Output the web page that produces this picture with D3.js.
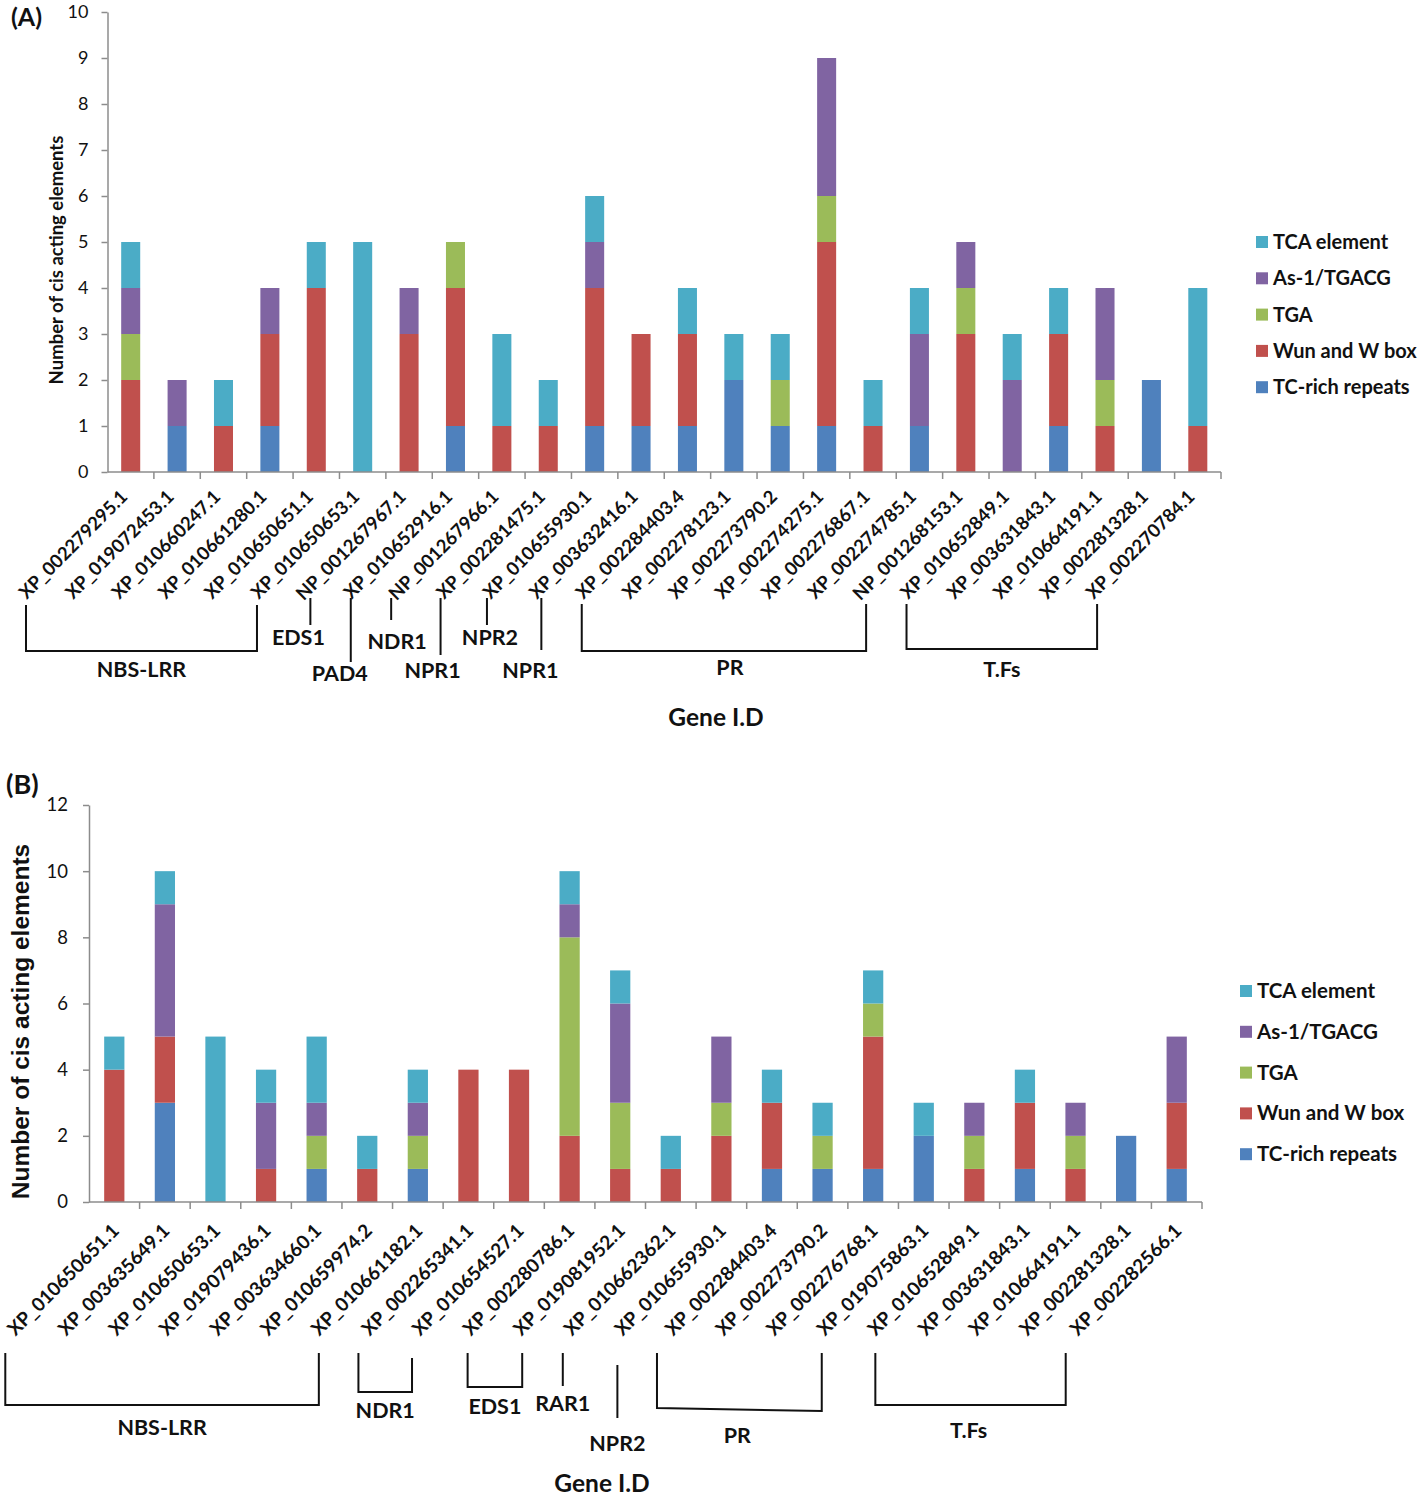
<!DOCTYPE html>
<html>
<head>
<meta charset="utf-8">
<script src="https://cdn.jsdelivr.net/npm/d3@7/dist/d3.min.js"></script>
<style>
body { margin: 0; background: #fff; }
text { font-family: Lato, "Open Sans", sans-serif; }
</style>
</head>
<body>
<div id="chart"></div>
<script>
// element types, bottom of stack first
var elements = ["TC-rich repeats", "Wun and W box", "TGA", "As-1/TGACG", "TCA element"];
var elementColors = ["#4F81BD", "#C0504D", "#9BBB59", "#8064A2", "#4BACC6"];

// ---- panel A ----
var genesA = ["XP_002279295.1", "XP_019072453.1", "XP_010660247.1", "XP_010661280.1", "XP_010650651.1",
  "XP_010650653.1", "NP_001267967.1", "XP_010652916.1", "NP_001267966.1", "XP_002281475.1",
  "XP_010655930.1", "XP_003632416.1", "XP_002284403.4", "XP_002278123.1", "XP_002273790.2",
  "XP_002274275.1", "XP_002276867.1", "XP_002274785.1", "NP_001268153.1", "XP_010652849.1",
  "XP_003631843.1", "XP_010664191.1", "XP_002281328.1", "XP_002270784.1"];
var tcRichA = [0, 1, 0, 1, 0, 0, 0, 1, 0, 0, 1, 1, 1, 2, 1, 1, 0, 1, 0, 0, 1, 0, 2, 0];
var wunA    = [2, 0, 1, 2, 4, 0, 3, 3, 1, 1, 3, 2, 2, 0, 0, 4, 1, 0, 3, 0, 2, 1, 0, 1];
var tgaA    = [1, 0, 0, 0, 0, 0, 0, 1, 0, 0, 0, 0, 0, 0, 1, 1, 0, 0, 1, 0, 0, 1, 0, 0];
var as1A    = [1, 1, 0, 1, 0, 0, 1, 0, 0, 0, 1, 0, 0, 0, 0, 3, 0, 2, 1, 2, 0, 2, 0, 0];
var tcaA    = [1, 0, 1, 0, 1, 5, 0, 0, 2, 1, 1, 0, 1, 1, 1, 0, 1, 1, 0, 1, 1, 0, 0, 3];
var ticksA = [0, 1, 2, 3, 4, 5, 6, 7, 8, 9, 10];
var groupsA = [
  {name: "NBS-LRR", from: 0, to: 5},
  {name: "EDS1", from: 6, to: 6},
  {name: "PAD4", from: 7, to: 7},
  {name: "NDR1", from: 8, to: 8},
  {name: "NPR1", from: 9, to: 9},
  {name: "NPR2", from: 10, to: 10},
  {name: "NPR1", from: 11, to: 11},
  {name: "PR", from: 12, to: 18},
  {name: "T.Fs", from: 19, to: 23}
];

// ---- panel B ----
var genesB = ["XP_010650651.1", "XP_003635649.1", "XP_010650653.1", "XP_019079436.1", "XP_003634660.1",
  "XP_010659974.2", "XP_010661182.1", "XP_002265341.1", "XP_010654527.1", "XP_002280786.1",
  "XP_019081952.1", "XP_010662362.1", "XP_010655930.1", "XP_002284403.4", "XP_002273790.2",
  "XP_002276768.1", "XP_019075863.1", "XP_010652849.1", "XP_003631843.1", "XP_010664191.1",
  "XP_002281328.1", "XP_002282566.1"];
var tcRichB = [0, 3, 0, 0, 1, 0, 1, 0, 0, 0, 0, 0, 0, 1, 1, 1, 2, 0, 1, 0, 2, 1];
var wunB    = [4, 2, 0, 1, 0, 1, 0, 4, 4, 2, 1, 1, 2, 2, 0, 4, 0, 1, 2, 1, 0, 2];
var tgaB    = [0, 0, 0, 0, 1, 0, 1, 0, 0, 6, 2, 0, 1, 0, 1, 1, 0, 1, 0, 1, 0, 0];
var as1B    = [0, 4, 0, 2, 1, 0, 1, 0, 0, 1, 3, 0, 2, 0, 0, 0, 0, 1, 0, 1, 0, 2];
var tcaB    = [1, 1, 5, 1, 2, 1, 1, 0, 0, 1, 1, 1, 0, 1, 1, 1, 1, 0, 1, 0, 0, 0];
var ticksB = [0, 2, 4, 6, 8, 10, 12];
var groupsB = [
  {name: "NBS-LRR", from: 0, to: 6},
  {name: "NDR1", from: 7, to: 8},
  {name: "EDS1", from: 9, to: 10},
  {name: "RAR1", from: 11, to: 11},
  {name: "NPR2", from: 12, to: 12},
  {name: "PR", from: 13, to: 16},
  {name: "T.Fs", from: 17, to: 21}
];

var svg = d3.select("#chart").append("svg")
  .attr("width", 1418)
  .attr("height", 1499);

// bracket / line layout for the group notes under the labels (top, bottom, label baseline, nudges)
var notesA = [
  {top: 605, bottom: 651, textY: 677, dl: 4, dr: 3},
  {top: 598, bottom: 625, textY: 645, dl: 10, tx: -12},
  {top: 598, bottom: 662, textY: 681, dl: 4, tx: -11},
  {top: 598, bottom: 620, textY: 649, dl: -2, tx: 6},
  {top: 598, bottom: 655, textY: 678, dl: 1, tx: -8},
  {top: 598, bottom: 625, textY: 645, dl: 1, tx: 3},
  {top: 598, bottom: 650, textY: 678, dl: 9, tx: -11},
  {top: 604, bottom: 651, textY: 675, dl: 3, dr: 9, tx: 6},
  {top: 604, bottom: 649, textY: 677, dl: 3, dr: 8}
];
var notesB = [
  {top: 1353, bottom: 1405, textY: 1435, dl: 2, dr: 12},
  {top: 1353, bottom: 1392, textY: 1418, dl: 1, dr: 4, topR: 1358},
  {top: 1353, bottom: 1387, textY: 1414, dl: 9, dr: 13},
  {top: 1353, bottom: 1386, textY: 1411, dl: 3},
  {top: 1365, bottom: 1418, textY: 1451, dl: 7},
  {top: 1353, bottom: 1408, textY: 1443, dl: -4, dr: 9, bottomR: 1411, tx: -2},
  {top: 1353, bottom: 1405, textY: 1438, dl: 12, dr: 0, tx: -2}
];

function drawPanel(p) {
  var g = svg.append("g");

  var table = p.genes.map(function(name, i) {
    var row = {gene: name};
    elements.forEach(function(k, j) { row[k] = p.series[j][i]; });
    return row;
  });
  var stacked = d3.stack().keys(elements)(table);

  var x = d3.scaleBand()
    .domain(p.genes)
    .range([p.left, p.right])
    .paddingInner(p.pad)
    .paddingOuter(p.pad / 2);
  var y = d3.scaleLinear()
    .domain([0, d3.max(p.ticks)])
    .range([p.bottom, p.top]);
  var bw = x.bandwidth(), step = x.step();

  // y axis
  var yAxis = g.append("g")
    .attr("transform", "translate(" + p.left + ",0)")
    .call(d3.axisLeft(y).tickValues(p.ticks).tickSize(6).tickSizeOuter(0).tickPadding(p.tickPad));
  yAxis.select(".domain").attr("stroke", "#8c8c8c").attr("stroke-width", 1.5);
  yAxis.selectAll(".tick line").attr("stroke", "#8c8c8c").attr("stroke-width", 1.5);
  yAxis.selectAll(".tick text")
    .attr("fill", "#111")
    .style("font-family", "Lato, sans-serif")
    .style("font-size", p.tickFont + "px");

  // bars
  g.selectAll(".layer")
    .data(stacked)
    .enter()
    .append("g")
    .attr("fill", function(d, i) { return elementColors[i]; })
    .selectAll("rect")
    .data(function(d) { return d.filter(function(v) { return v[1] > v[0]; }); })
    .enter()
    .append("rect")
    .attr("x", function(d) { return x(d.data.gene); })
    .attr("y", function(d) { return y(d[1]); })
    .attr("width", bw)
    .attr("height", function(d) { return y(d[0]) - y(d[1]); });

  // x axis line with ticks between categories
  g.append("line")
    .attr("x1", p.left).attr("x2", p.right)
    .attr("y1", y(0)).attr("y2", y(0))
    .attr("stroke", "#8c8c8c").attr("stroke-width", 1.5);
  g.selectAll(".xtick")
    .data(p.genes)
    .enter()
    .append("line")
    .attr("x1", function(d) { return x(d) + bw / 2 + step / 2; })
    .attr("x2", function(d) { return x(d) + bw / 2 + step / 2; })
    .attr("y1", y(0)).attr("y2", y(0) + 7)
    .attr("stroke", "#8c8c8c").attr("stroke-width", 1.5);

  // rotated gene labels
  g.selectAll(".glabel")
    .data(p.genes)
    .enter()
    .append("text")
    .attr("transform", function(d) {
      return "translate(" + (x(d) + bw / 2 + p.labelDx) + "," + (y(0) + p.labelDy) + ") rotate(-45)";
    })
    .attr("text-anchor", "end")
    .attr("font-weight", "bold")
    .attr("font-size", p.labelFont + "px")
    .attr("fill", "#111")
    .text(function(d) { return d; });

  // group brackets
  function startX(i) { return x(p.genes[i]) + bw / 2 - p.startOffset; }
  p.groups.forEach(function(grp, k) {
    var n = p.notes[k];
    var xl = startX(grp.from) + (n.dl || 0);
    var path, xmid;
    if (grp.to > grp.from) {
      var xr = startX(grp.to) + (n.dr || 0);
      path = "M" + xl + "," + n.top + "V" + n.bottom + "L" + xr + "," + (n.bottomR || n.bottom) + "V" + (n.topR || n.top);
      xmid = (xl + xr) / 2;
    } else {
      path = "M" + xl + "," + n.top + "V" + n.bottom;
      xmid = xl;
    }
    g.append("path")
      .attr("d", path)
      .attr("fill", "none")
      .attr("stroke", "#111")
      .attr("stroke-width", 2);
    g.append("text")
      .attr("x", xmid + (n.tx || 0))
      .attr("y", n.textY)
      .attr("text-anchor", "middle")
      .attr("font-weight", "bold")
      .attr("font-size", p.groupFont + "px")
      .attr("fill", "#111")
      .text(grp.name);
  });

  // axis titles
  g.append("text")
    .attr("transform", "translate(" + p.yTitleX + "," + ((p.top + p.bottom) / 2 + p.yTitleDy) + ") rotate(-90)")
    .attr("text-anchor", "middle")
    .attr("font-weight", "bold")
    .attr("font-size", p.yTitleFont + "px")
    .style("font-family", p.yTitleFamily)
    .attr("fill", "#111")
    .text("Number of cis acting elements");
  g.append("text")
    .attr("x", p.xTitleX)
    .attr("y", p.xTitleY)
    .attr("text-anchor", "middle")
    .attr("font-weight", "bold")
    .attr("font-size", p.xTitleFont + "px")
    .attr("fill", "#111")
    .text("Gene I.D");

  // panel letter
  g.append("text")
    .attr("x", p.letterX)
    .attr("y", p.letterY)
    .attr("font-weight", "bold")
    .attr("font-size", p.letterFont + "px")
    .attr("fill", "#111")
    .text(p.letter);

  // legend, top entry is the top of the stack
  var legendItems = elements.slice().reverse();
  var legend = g.selectAll(".legend")
    .data(legendItems)
    .enter()
    .append("g")
    .attr("transform", function(d, i) {
      return "translate(" + p.legendX + "," + (p.legendY + i * p.legendStep) + ")";
    });
  legend.append("rect")
    .attr("x", 0).attr("y", -6)
    .attr("width", 12).attr("height", 12)
    .attr("fill", function(d) { return elementColors[elements.indexOf(d)]; });
  legend.append("text")
    .attr("x", 17)
    .attr("y", 7)
    .attr("font-weight", "bold")
    .attr("font-size", p.legendFont + "px")
    .attr("fill", "#111")
    .text(function(d) { return d; });
}

drawPanel({
  letter: "(A)", letterX: 11, letterY: 26, letterFont: 25,
  genes: genesA, series: [tcRichA, wunA, tgaA, as1A, tcaA], ticks: ticksA,
  groups: groupsA, notes: notesA,
  left: 107.5, right: 1221, top: 12, bottom: 472, pad: 0.59,
  tickFont: 18, tickPad: 13, labelFont: 18.5, labelDx: -2, labelDy: 26, startOffset: 108.7,
  groupFont: 21.5,
  yTitleX: 63, yTitleDy: 18, yTitleFont: 18.5, yTitleFamily: "Lato, sans-serif",
  xTitleX: 716, xTitleY: 726, xTitleFont: 24.5,
  legendX: 1256, legendY: 242, legendStep: 36.3, legendFont: 20
});

drawPanel({
  letter: "(B)", letterX: 6, letterY: 794, letterFont: 27,
  genes: genesB, series: [tcRichB, wunB, tgaB, as1B, tcaB], ticks: ticksB,
  groups: groupsB, notes: notesB,
  left: 89, right: 1202, top: 805, bottom: 1202, pad: 0.6,
  tickFont: 18.5, tickPad: 15, labelFont: 19, labelDx: 6, labelDy: 30, startOffset: 111,
  groupFont: 21.5,
  yTitleX: 29, yTitleDy: 18, yTitleFont: 24.5, yTitleFamily: "'Liberation Sans', Arial, sans-serif",
  xTitleX: 602, xTitleY: 1492, xTitleFont: 24.5,
  legendX: 1240, legendY: 991, legendStep: 40.8, legendFont: 20.5
});
</script>
</body>
</html>
